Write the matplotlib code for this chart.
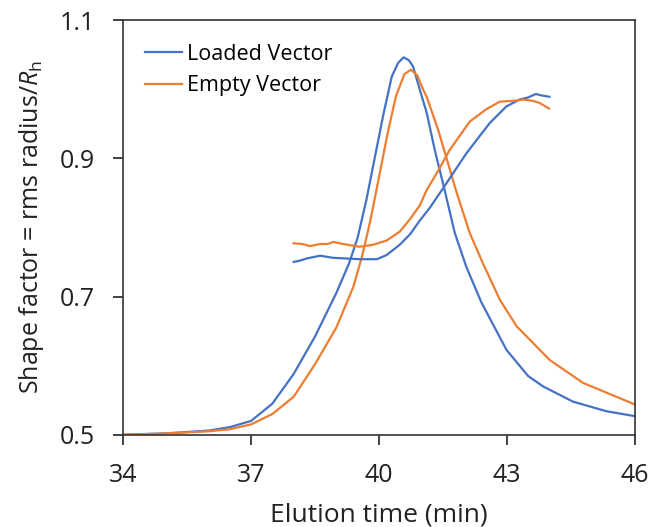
import numpy as np
import matplotlib.pyplot as plt

plt.rcParams['font.family'] = ['Open Sans', 'DejaVu Sans']
plt.rcParams['mathtext.fontset'] = 'custom'
plt.rcParams['mathtext.rm'] = 'Open Sans'
plt.rcParams['mathtext.it'] = 'Open Sans:italic'

# Elution peaks (scaled onto the shape factor axis)
t_loaded_peak = [34, 35, 36, 36.5, 37, 37.5, 38, 38.5, 39, 39.3, 39.5, 39.7, 39.9, 40.1,
                 40.3, 40.45, 40.58, 40.7, 40.8, 40.96, 41.12, 41.31, 41.51, 41.78,
                 42.05, 42.4, 42.99, 43.5, 43.85, 44.55, 45.34, 46]
y_loaded_peak = [0.500, 0.502, 0.506, 0.511, 0.520, 0.545, 0.588, 0.642, 0.705, 0.748, 0.785,
                 0.838, 0.900, 0.962, 1.018, 1.038, 1.046, 1.042, 1.033, 0.999, 0.966,
                 0.912, 0.862, 0.792, 0.743, 0.692, 0.623, 0.585, 0.570, 0.548, 0.534, 0.527]

t_empty_peak = [34, 35, 36, 36.5, 37, 37.5, 38, 38.5, 39, 39.4, 39.6, 39.8, 40.0, 40.2,
                40.4, 40.6, 40.75, 40.9, 41.04, 41.12, 41.39, 41.62, 41.82, 42.13,
                42.44, 42.84, 43.23, 44.01, 44.79, 45.57, 46]
y_empty_peak = [0.500, 0.502, 0.505, 0.508, 0.515, 0.530, 0.555, 0.602, 0.655, 0.714, 0.757,
                0.810, 0.872, 0.935, 0.990, 1.022, 1.028, 1.020, 0.999, 0.989, 0.941,
                0.893, 0.851, 0.792, 0.748, 0.695, 0.657, 0.608, 0.575, 0.555, 0.544]

# Shape factor curves
t_loaded_sf = [38.0, 38.15, 38.3, 38.62, 38.93, 39.24, 39.55, 39.95, 40.18, 40.49, 40.73,
               40.96, 41.19, 41.51, 42.05, 42.6, 42.99, 43.3, 43.5, 43.68, 43.81, 44.0]
y_loaded_sf = [0.750, 0.752, 0.755, 0.759, 0.756, 0.755, 0.754, 0.754, 0.760, 0.775, 0.790,
               0.810, 0.828, 0.857, 0.907, 0.951, 0.975, 0.985, 0.988, 0.993, 0.991, 0.989]

t_empty_sf = [38.0, 38.2, 38.38, 38.62, 38.8, 38.93, 39.16, 39.55, 39.87, 40.18, 40.49,
              40.73, 40.96, 41.12, 41.39, 41.66, 42.13, 42.52, 42.84, 43.15, 43.38,
              43.62, 43.77, 43.99]
y_empty_sf = [0.777, 0.776, 0.773, 0.776, 0.776, 0.779, 0.776, 0.772, 0.775, 0.781, 0.794,
              0.812, 0.832, 0.854, 0.882, 0.912, 0.953, 0.971, 0.982, 0.983, 0.985,
              0.983, 0.980, 0.972]

blue = '#4472C4'
orange = '#ED7D31'

fig = plt.figure(figsize=(6.55, 5.27), dpi=100)
ax = fig.add_axes([0.188, 0.175, 0.781, 0.787])

ax.plot(t_loaded_peak, y_loaded_peak, color=blue, lw=1.6, label='Loaded Vector')
ax.plot(t_empty_peak, y_empty_peak, color=orange, lw=1.6, label='Empty Vector')
ax.plot(t_loaded_sf, y_loaded_sf, color=blue, lw=1.6)
ax.plot(t_empty_sf, y_empty_sf, color=orange, lw=1.6)

ax.set_xlim(34, 46)
ax.set_ylim(0.5, 1.1)
ax.set_xticks([34, 37, 40, 43, 46])
ax.set_yticks([0.5, 0.7, 0.9, 1.1])
ax.tick_params(direction='out', length=7, width=1.2, labelsize=18, colors='#222222')
ax.tick_params(axis='x', pad=13)
ax.tick_params(axis='y', pad=13)
for s in ax.spines.values():
    s.set_linewidth(1.2)
    s.set_color('#333333')

ax.set_xlabel('Elution time (min)', fontsize=19, color='#222222', labelpad=11)
ax.set_ylabel(r'Shape factor = rms radius/$\mathit{R}_\mathrm{h}$', fontsize=18,
              color='#222222', labelpad=10)

ax.legend(loc='upper left', frameon=False, fontsize=15.5, handlelength=1.7,
          handletextpad=0.25, labelspacing=0.5, bbox_to_anchor=(0.005, 0.99))

fig.savefig('out.png', dpi=100)
